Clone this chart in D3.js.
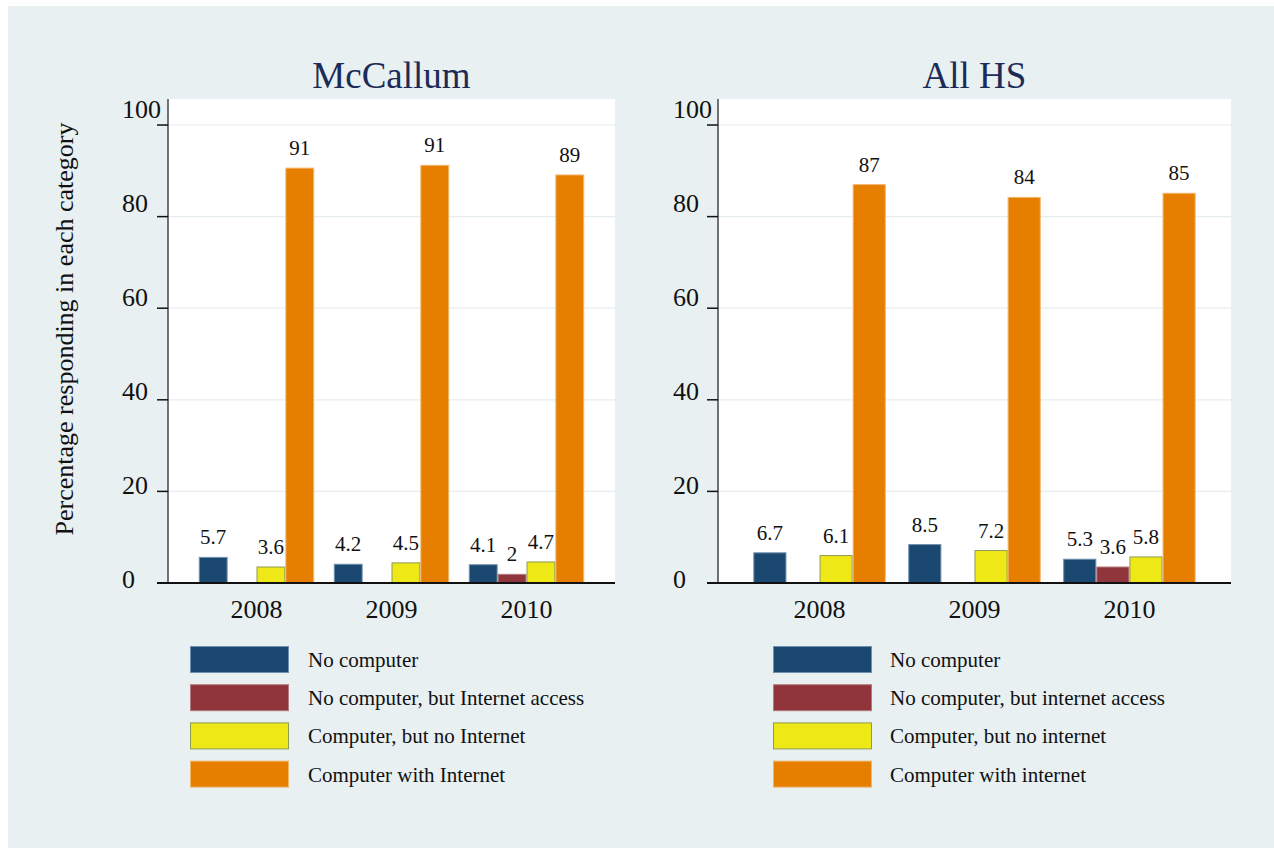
<!DOCTYPE html>
<html><head><meta charset="utf-8">
<script src="https://cdn.jsdelivr.net/npm/d3@7"></script>
<style>body{margin:0;background:#fff}svg{display:block}</style>
</head><body><svg id="c" width="1274" height="848"></svg>
<script>
// ---- data ----
const years = ["2008", "2009", "2010"];
const legendLeft = ["No computer", "No computer, but Internet access", "Computer, but no Internet", "Computer with Internet"];
const legendRight = ["No computer", "No computer, but internet access", "Computer, but no internet", "Computer with internet"];
const seriesColors = ["#1b4870", "#90353b", "#eee916", "#e67f00"];
const seriesStrokes = ["#6f8fae", "#b57a7e", "#8f9a55", "#f2b56e"];

const mcNoComputer = [5.7, 4.2, 4.1];
const mcNoCompInternet = [null, null, 2.0];
const mcCompNoInternet = [3.6, 4.5, 4.7];
const mcCompInternet = [90.7, 91.3, 89.2];

const hsNoComputer = [6.7, 8.5, 5.3];
const hsNoCompInternet = [null, null, 3.6];
const hsCompNoInternet = [6.1, 7.2, 5.8];
const hsCompInternet = [87.1, 84.3, 85.2];

const yTicks = [0, 20, 40, 60, 80, 100];
const yTitle = "Percentage responding in each category";

// ---- layout ----
const svg = d3.select("#c");
const FONT = "'Liberation Serif','Times New Roman',serif";
svg.append("rect").attr("x", 8).attr("y", 6).attr("width", 1266).attr("height", 842).attr("fill", "#e8f0f2");

const panels = [
  { title: "McCallum", x0: 168, x1: 615, labelX: 122, series: [mcNoComputer, mcNoCompInternet, mcCompNoInternet, mcCompInternet], legend: legendLeft, swX: 190, txtX: 308 },
  { title: "All HS", x0: 718, x1: 1231, labelX: 673, series: [hsNoComputer, hsNoCompInternet, hsCompNoInternet, hsCompInternet], legend: legendRight, swX: 773, txtX: 890 }
];

const yTop = 99, yBot = 583;
const y = d3.scaleLinear().domain([0, 105.68]).range([yBot, yTop]);
// tick labels in the original sit on a slightly stretched spacing
const yLab = d3.scaleLinear().domain([0, 100]).range([588, 118]);
const fmt = d3.format(".2~g");

panels.forEach(p => {
  const g = svg.append("g");
  g.append("rect").attr("x", p.x0).attr("y", yTop).attr("width", p.x1 - p.x0).attr("height", yBot - yTop).attr("fill", "#ffffff");
  g.selectAll("line.grid").data(yTicks.filter(t => t > 0)).join("line")
    .attr("x1", p.x0).attr("x2", p.x1).attr("y1", d => y(d)).attr("y2", d => y(d))
    .attr("stroke", "#e6edf0").attr("stroke-width", 1.2);

  const x0 = d3.scaleBand().domain(years).range([p.x0, p.x1]).paddingInner(0.145).paddingOuter(0.228);
  const x1 = d3.scaleBand().domain(d3.range(4)).range([0, x0.bandwidth()]);

  const rows = [];
  years.forEach((yr, i) => p.series.forEach((s, k) => { if (s[i] != null) rows.push({ yr, k, v: s[i] }); }));

  g.selectAll("rect.bar").data(rows).join("rect")
    .attr("x", d => x0(d.yr) + x1(d.k) + 0.5)
    .attr("y", d => y(d.v) + 0.5)
    .attr("width", x1.bandwidth() - 1)
    .attr("height", d => Math.max(0, y(0) - y(d.v) - 1))
    .attr("fill", d => seriesColors[d.k])
    .attr("stroke", d => seriesStrokes[d.k]).attr("stroke-width", 1);

  g.selectAll("text.val").data(rows).join("text")
    .attr("x", d => x0(d.yr) + x1(d.k) + x1.bandwidth() / 2)
    .attr("y", d => y(d.v) - 12.5)
    .attr("text-anchor", "middle").attr("font-family", FONT).attr("font-size", 21).attr("fill", "#111")
    .text(d => fmt(d.v));

  g.append("line").attr("x1", p.x0).attr("x2", p.x0).attr("y1", yTop).attr("y2", yBot).attr("stroke", "#444").attr("stroke-width", 1.5);
  g.selectAll("line.tick").data(yTicks).join("line")
    .attr("x1", p.x0 - 11).attr("x2", p.x0).attr("y1", d => y(d)).attr("y2", d => y(d))
    .attr("stroke", "#111").attr("stroke-width", 1.5);
  g.selectAll("text.ytl").data(yTicks).join("text")
    .attr("x", p.labelX).attr("y", d => yLab(d))
    .attr("font-family", FONT).attr("font-size", 26).attr("fill", "#111")
    .text(d => d);
  g.append("line").attr("x1", p.x0 - 11).attr("x2", p.x1).attr("y1", yBot).attr("y2", yBot).attr("stroke", "#111").attr("stroke-width", 2);
  g.selectAll("text.xtl").data(years).join("text")
    .attr("x", d => x0(d) + x0.bandwidth() / 2).attr("y", 618)
    .attr("text-anchor", "middle").attr("font-family", FONT).attr("font-size", 26).attr("fill", "#111")
    .text(d => d);
  g.append("text").attr("x", (p.x0 + p.x1) / 2).attr("y", 88).attr("text-anchor", "middle")
    .attr("font-family", FONT).attr("font-size", 37).attr("fill", "#1c2b58").text(p.title);
  const leg = g.selectAll("g.leg").data(p.legend).join("g")
    .attr("transform", (d, i) => `translate(0,${646 + i * 38.2})`);
  leg.append("rect").attr("x", p.swX + 0.5).attr("y", 0.5).attr("width", 98).attr("height", 26)
    .attr("fill", (d, i) => seriesColors[i]).attr("stroke", (d, i) => seriesStrokes[i]).attr("stroke-width", 1);
  leg.append("text").attr("x", p.txtX).attr("y", 21).attr("font-family", FONT).attr("font-size", 21).attr("fill", "#111").text(d => d);
});

svg.append("text").attr("transform", "translate(73,329) rotate(-90)").attr("text-anchor", "middle")
  .attr("font-family", FONT).attr("font-size", 26).attr("fill", "#111").text(yTitle);
</script>
</body></html>
